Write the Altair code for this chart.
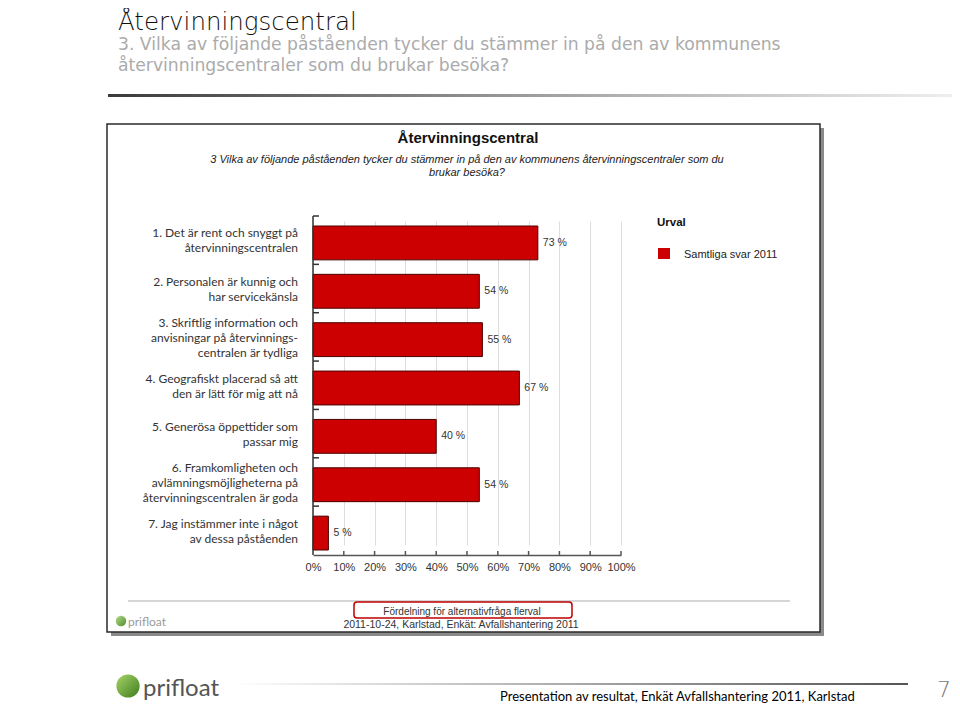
import altair as alt
import pandas as pd

# ---------------- data ----------------
categories = [
    "1. Det är rent och snyggt på\nåtervinningscentralen",
    "2. Personalen är kunnig och\nhar servicekänsla",
    "3. Skriftlig information och\nanvisningar på återvinnings-\ncentralen är tydliga",
    "4. Geografiskt placerad så att\nden är lätt för mig att nå",
    "5. Generösa öppettider som\npassar mig",
    "6. Framkomligheten och\navlämningsmöjligheterna på\nåtervinningscentralen är goda",
    "7. Jag instämmer inte i något\nav dessa påståenden",
]
values = [73, 54, 55, 67, 40, 54, 5]
x_ticks = [0, 10, 20, 30, 40, 50, 60, 70, 80, 90, 100]

slide_title = "Återvinningscentral"
slide_sub1 = "3. Vilka av följande påståenden tycker du stämmer in på den av kommunens"
slide_sub2 = "återvinningscentraler som du brukar besöka?"
chart_title = "Återvinningscentral"
chart_sub1 = "3 Vilka av följande påståenden tycker du stämmer in på den av kommunens återvinningscentraler som du"
chart_sub2 = "brukar besöka?"
legend_title = "Urval"
legend_item = "Samtliga svar 2011"
foot1 = "Fördelning för alternativfråga flerval"
foot2 = "2011-10-24, Karlstad, Enkät: Avfallshantering 2011"
logo_text = "prifloat"
bottom_text = "Presentation av resultat, Enkät Avfallshantering 2011, Karlstad"
page_no = "7"

df = pd.DataFrame({"cat": categories, "v": values})
ticks_df = pd.DataFrame({"t": x_ticks[1:]})
dummy = pd.DataFrame({"a": [0]})

W, H = 308, 339
RED = "#cc0000"
CW, CH = 944, 697

yscale = alt.Scale(range=[10, 334], paddingInner=0.3, paddingOuter=0)
yenc = alt.Y("cat:N", sort=categories, axis=None, scale=yscale)
xscale = alt.Scale(domain=[0, 100], nice=False, zero=True)
xaxis = alt.Axis(values=x_ticks, labelExpr="datum.value + '%'",
                 grid=True, gridColor="#dddddd", gridWidth=1,
                 domainColor="#555", domainWidth=1.5, ticks=False,
                 labelFont="Liberation Sans", labelFontSize=11,
                 labelColor="#333", labelPadding=6, labelFlush=False,
                 labelOverlap=False)


def txt(text, x, y, size, font="Liberation Sans", color="#333", align="left",
        weight="normal", style="normal", baseline="alphabetic"):
    return alt.Chart(dummy).mark_text(
        text=text, align=align, baseline=baseline, font=font, fontSize=size,
        color=color, fontWeight=weight, fontStyle=style
    ).encode(x=alt.value(x), y=alt.value(y))


def rect(x, x2, y, y2, **kw):
    return alt.Chart(dummy).mark_rect(**kw).encode(
        x=alt.value(x), x2=alt.value(x2), y=alt.value(y), y2=alt.value(y2))


# ---------------- slide decoration ----------------
divider = rect(-205, CW - 305, -122, -119, color=alt.Gradient(
    gradient="linear", x1=0, x2=1, y1=0, y2=0,
    stops=[alt.GradientStop(offset=0, color="#3a3a3a"),
           alt.GradientStop(offset=0.6, color="#b0b0b0"),
           alt.GradientStop(offset=1, color="#eeeeee")]))

shadow_r = rect(507, 511, -88, 420, color="#8a8a8a")
shadow_b = rect(-202, 511, 416, 420, color="#8a8a8a")
frame = rect(-206, 507, -92, 416, fillOpacity=0, stroke="#2a2a2a", strokeWidth=1.5)

foot_line = rect(-185, 477, 384, 386, color="#d6d6d6")
foot_box = rect(41, 259, 386, 402, fillOpacity=0, stroke="#c00000",
                strokeWidth=1.5, cornerRadius=3)

legend_sq = rect(345, 357, 32, 43, color=RED)

small_logo = alt.Chart(dummy).mark_circle(size=110, opacity=1, color=alt.Gradient(
    gradient="linear", x1=0, x2=1, y1=0, y2=1,
    stops=[alt.GradientStop(offset=0, color="#b5d98a"),
           alt.GradientStop(offset=1, color="#4f8f2a")])).encode(
    x=alt.value(-192), y=alt.value(405))
big_logo = alt.Chart(dummy).mark_circle(size=540, opacity=1, color=alt.Gradient(
    gradient="linear", x1=0, x2=1, y1=0, y2=1,
    stops=[alt.GradientStop(offset=0, color="#a8d46a"),
           alt.GradientStop(offset=1, color="#3d7d1c")])).encode(
    x=alt.value(-185), y=alt.value(470))

bottom_line = rect(-81, 595, 467, 469, color=alt.Gradient(
    gradient="linear", x1=0, x2=1, y1=0, y2=0,
    stops=[alt.GradientStop(offset=0, color="#ffffff"),
           alt.GradientStop(offset=1, color="#555555")]))

texts = [
    txt(slide_title, -195, -186, 24.5, font="DejaVu Sans", color="#111", weight=300),
    txt(slide_sub1, -195, -166, 17.2, font="DejaVu Sans", color="#ababab"),
    txt(slide_sub2, -195, -145, 17.2, font="DejaVu Sans", color="#ababab"),
    txt(chart_title, 155, -73, 15, color="#111", align="center", weight="bold"),
    txt(chart_sub1, 154, -53, 11, color="#222", align="center", style="italic"),
    txt(chart_sub2, 154, -40, 11, color="#222", align="center", style="italic"),
    txt(legend_title, 344, 10, 11.5, color="#111", weight="bold"),
    txt(legend_item, 371, 42, 11, color="#222"),
    txt(foot1, 149, 399, 10, color="#333", align="center"),
    txt(foot2, 148, 412, 10.5, color="#333", align="center"),
    txt(logo_text, -185, 410, 12, font="Lato", color="#9a9a9a"),
    txt(logo_text, -170, 480, 24, font="Lato", color="#555"),
    txt(bottom_text, 187, 485, 13, font="Lato", color="#000"),
    txt(page_no, CW - 305 - 1, 481, 22, font="DejaVu Sans", color="#777",
        weight=300, align="right"),
]

# ---------------- chart ----------------
base = alt.Chart(df)

bars = base.mark_bar(color=RED, stroke="#4a0000", strokeWidth=1).encode(
    y=yenc,
    x=alt.X("v:Q", scale=xscale, title=None, axis=xaxis),
)

vlabels = base.transform_calculate(lbl="datum.v + ' %'").mark_text(
    align="left", baseline="middle", dx=5, font="Liberation Sans",
    fontSize=10.5, color="#333").encode(
    y=yenc, x=alt.X("v:Q", scale=xscale, title=None, axis=xaxis), text="lbl:N")


def ylabel_layer(nlines, dy):
    return base.transform_calculate(
        n="length(split(datum.cat, '\\n'))"
    ).transform_filter(f"datum.n == {nlines}").mark_text(
        align="right", baseline="middle", lineBreak="\n", font="Lato",
        fontSize=12, lineHeight=15, color="#333", dy=dy).encode(
        y=yenc, x=alt.value(-15), text="cat:N")


ylabels2 = ylabel_layer(2, -9.5)
ylabels3 = ylabel_layer(3, -16.5)

ydomain = alt.Chart(dummy).mark_rule(color="#333", strokeWidth=1.5).encode(
    x=alt.value(0), y=alt.value(0), y2=alt.value(H))

yticks = base.mark_rule(color="#333", strokeWidth=1.5, yOffset=-10).encode(
    y=alt.Y("cat:N", sort=categories, axis=None, bandPosition=0, scale=yscale),
    x=alt.value(0), x2=alt.value(6))

xticks = alt.Chart(ticks_df).mark_rule(color="#555", strokeWidth=1.5).encode(
    x=alt.X("t:Q", scale=xscale, title=None, axis=xaxis),
    y=alt.value(H - 4), y2=alt.value(H))

chart = alt.layer(
    divider, shadow_r, shadow_b, frame, foot_line, foot_box, legend_sq,
    small_logo, big_logo, bottom_line,
    bars, vlabels, ylabels2, ylabels3, ydomain, yticks, xticks, *texts
).properties(
    width=W, height=H,
    padding={"left": 305, "top": 208, "right": CW - 305 - W, "bottom": CH - 208 - H},
    autosize=alt.AutoSizeParams(type="none"),
    background="white",
).configure_view(strokeWidth=0)

chart.save("out.html", embed_options={"renderer": "svg", "actions": False})
